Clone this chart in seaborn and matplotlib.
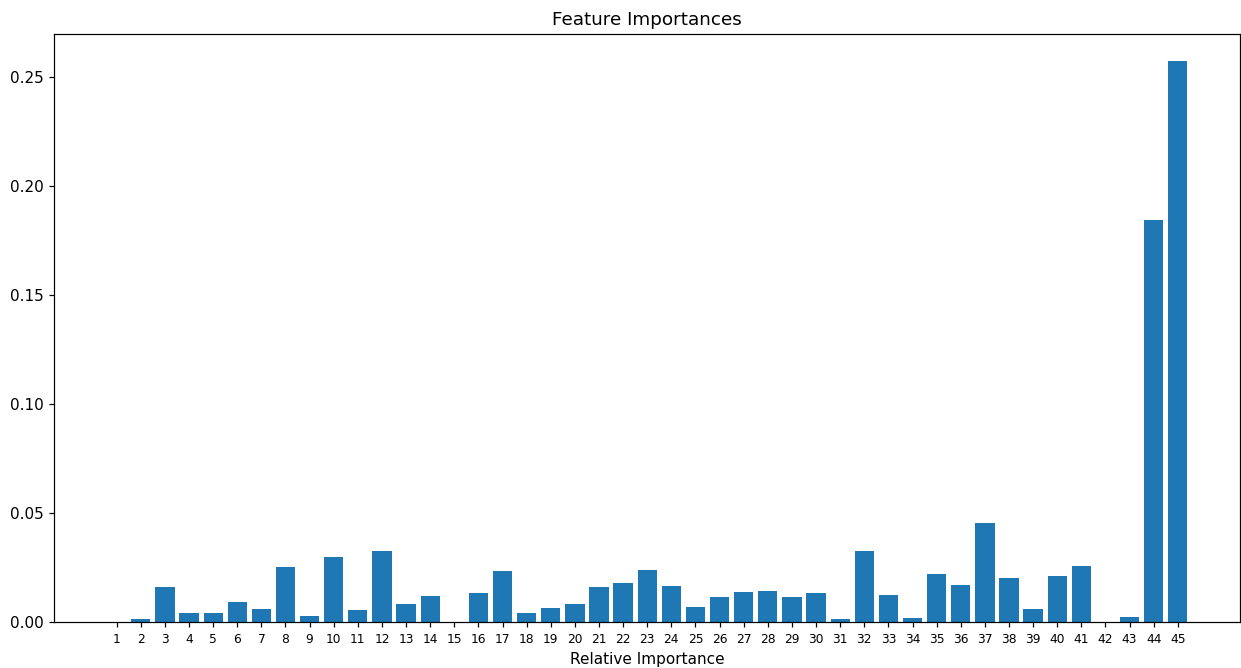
import matplotlib
matplotlib.use("Agg")
import matplotlib.pyplot as plt
import seaborn as sns
import pandas as pd

features = [str(i) for i in range(1, 46)]
importances = [
    0.0000, 0.0014, 0.0159, 0.0043, 0.0043, 0.0090, 0.0060, 0.0252, 0.0028, 0.0298,
    0.0054, 0.0326, 0.0081, 0.0118, 0.0000, 0.0131, 0.0232, 0.0043, 0.0064, 0.0081,
    0.0159, 0.0179, 0.0237, 0.0164, 0.0070, 0.0116, 0.0138, 0.0144, 0.0116, 0.0131,
    0.0014, 0.0326, 0.0122, 0.0018, 0.0220, 0.0168, 0.0456, 0.0200, 0.0060, 0.0211,
    0.0257, 0.0000, 0.0023, 0.1843, 0.2572,
]

df = pd.DataFrame({"feature": features, "importance": importances})

DPI = 110
fig = plt.figure(figsize=(1241 / DPI, 668 / DPI), dpi=DPI)
ax = fig.add_axes([0.0435, 0.069, 0.9557, 0.880])

sns.barplot(data=df, x="feature", y="importance", order=features,
            color="#1f77b4", saturation=1, width=0.8, ax=ax)

ax.set_xlim(-2.6, 46.58)
ax.set_ylim(0, 0.2697)
ax.set_yticks([0.00, 0.05, 0.10, 0.15, 0.20, 0.25])
ax.set_yticklabels(["0.00", "0.05", "0.10", "0.15", "0.20", "0.25"], fontsize=10)
ax.tick_params(axis="x", labelsize=8)
ax.set_title("Feature Importances", fontsize=12)
ax.set_xlabel("Relative Importance", fontsize=10)
ax.set_ylabel("")

fig.savefig("out.png", dpi=DPI)
